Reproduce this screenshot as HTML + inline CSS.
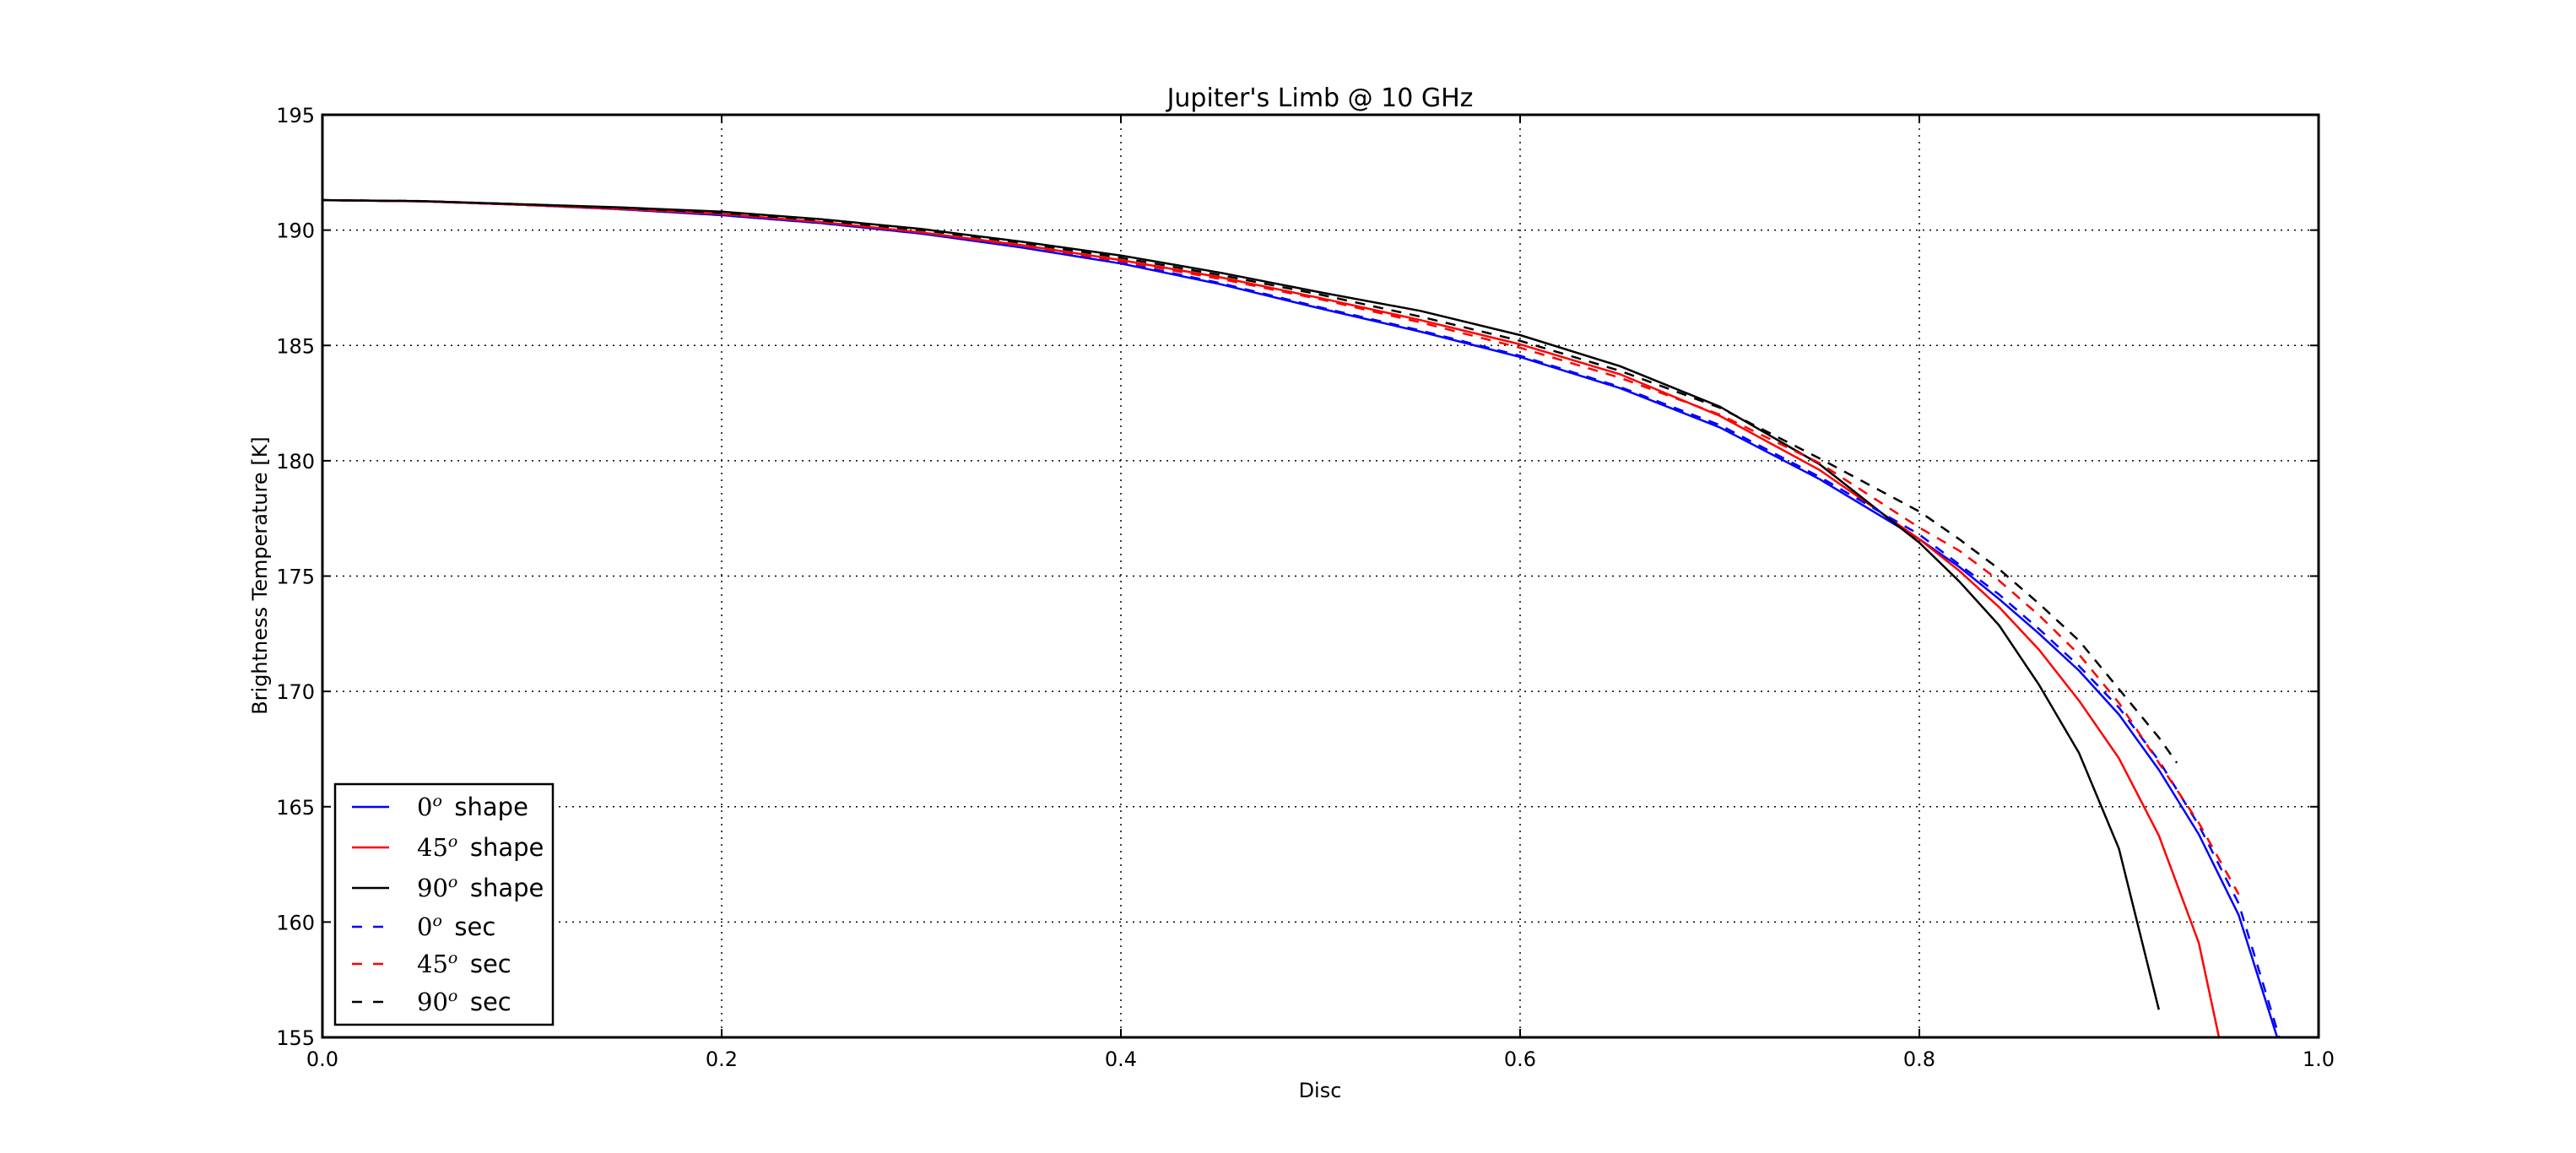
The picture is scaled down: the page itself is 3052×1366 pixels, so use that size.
<!DOCTYPE html>
<html><head><meta charset="utf-8"><style>
html,body{margin:0;padding:0;background:#fff;overflow:hidden;width:3052px;height:1366px;}
svg{display:block;}
svg text{font-family:"DejaVu Sans","Liberation Sans",sans-serif;fill:#000;}
</style></head><body>
<svg id="chart" width="3052" height="1366" viewBox="0 0 3052 1366" xmlns="http://www.w3.org/2000/svg">
<rect width="3052" height="1366" fill="#fff"/>
<g id="grid"></g>
<g id="series"></g>
<g id="axes"></g>
<g id="legend"></g>
</svg>
<script>
const xTicks=[0.0,0.2,0.4,0.6,0.8,1.0];
const xTickLabels=["0.0","0.2","0.4","0.6","0.8","1.0"];
const yTicks=[155,160,165,170,175,180,185,190,195];
const yTickLabels=["155","160","165","170","175","180","185","190","195"];
const xShape=[0,0.05,0.1,0.15,0.2,0.25,0.3,0.35,0.4,0.45,0.5,0.55,0.6,0.65,0.7,0.75,0.8,0.82,0.84,0.86,0.88,0.9,0.92,0.94,0.96,0.98,0.99];
const shape0=[191.3,191.25,191.1,190.9,190.65,190.3,189.85,189.25,188.55,187.65,186.6,185.6,184.5,183.15,181.45,179.2,176.6,175.4,174.0,172.5,170.9,169.0,166.6,163.8,160.3,154.8,152];
const shape45=[191.3,191.25,191.1,190.92,190.7,190.35,189.9,189.35,188.7,187.95,187.05,186.1,185.05,183.75,181.95,179.6,176.6,175.23,173.65,171.8,169.6,167.1,163.75,159.1,151.0];
const shape90=[191.3,191.26,191.12,190.98,190.8,190.47,190.05,189.5,188.9,188.15,187.3,186.5,185.45,184.1,182.35,179.85,176.45,174.77,172.86,170.28,167.33,163.18,156.2];
const sec0=[191.3,191.25,191.1,190.9,190.65,190.3,189.85,189.27,188.6,187.7,186.65,185.65,184.55,183.2,181.55,179.3,176.8,175.5,174.2,172.7,171.1,169.3,167.0,164.2,160.8,155.1,152];
const sec45=[191.3,191.25,191.1,190.92,190.7,190.35,189.9,189.32,188.65,187.88,187.0,186.0,184.9,183.6,182.0,179.9,177.1,176.1,174.8,173.3,171.6,169.5,166.9,164.3,161.2];
const xSec90=[0,0.05,0.1,0.15,0.2,0.25,0.3,0.35,0.4,0.45,0.5,0.55,0.6,0.65,0.7,0.75,0.8,0.82,0.84,0.86,0.88,0.9,0.92,0.929];
const sec90=[191.3,191.26,191.12,190.96,190.75,190.42,190.0,189.45,188.8,188.05,187.2,186.25,185.2,183.9,182.3,180.1,177.8,176.6,175.3,173.8,172.2,170.1,168.0,166.9];

const NS="http://www.w3.org/2000/svg";
const L=382,R=2747,T=136,B=1229;
const xMin=0,xMax=1,yMin=155,yMax=195;
function sx(v){return L+(v-xMin)/(xMax-xMin)*(R-L);}
function sy(v){return B-(v-yMin)/(yMax-yMin)*(B-T);}
function mk(tag,attrs,parent){const e=document.createElementNS(NS,tag);for(const k in attrs)e.setAttribute(k,attrs[k]);parent.appendChild(e);return e;}
const grid=document.getElementById('grid'),series=document.getElementById('series'),axes=document.getElementById('axes'),legend=document.getElementById('legend');

const defs=mk('defs',{},document.getElementById('chart'));
const cp=mk('clipPath',{id:'plotclip'},defs);
mk('rect',{x:L,y:T,width:R-L,height:B-T},cp);
series.setAttribute('clip-path','url(#plotclip)');

xTicks.forEach((t,i)=>{
  const x=sx(t);
  if(i>0&&i<xTicks.length-1){
    const g=mk('line',{x1:x,y1:T,x2:x,y2:B,stroke:'#000','stroke-width':1.5,'stroke-dasharray':'2,6'},grid);
    
    
  }
  mk('line',{x1:x,y1:B,x2:x,y2:B-10,stroke:'#000','stroke-width':2},axes);
  mk('line',{x1:x,y1:T,x2:x,y2:T+10,stroke:'#000','stroke-width':2},axes);
  const tx=mk('text',{x:x,y:1263,'font-size':24,'text-anchor':'middle'},axes);
  tx.textContent=xTickLabels[i];
  
  
});
yTicks.forEach((t,i)=>{
  const y=sy(t);
  if(i>0&&i<yTicks.length-1){
    const g=mk('line',{x1:L,y1:y,x2:R,y2:y,stroke:'#000','stroke-width':1.5,'stroke-dasharray':'2,6'},grid);
    
    
  }
  mk('line',{x1:L,y1:y,x2:L+10,y2:y,stroke:'#000','stroke-width':2},axes);
  mk('line',{x1:R,y1:y,x2:R-10,y2:y,stroke:'#000','stroke-width':2},axes);
  const tx=mk('text',{x:373,y:y+9,'font-size':24,'text-anchor':'end'},axes);
  tx.textContent=yTickLabels[i];
  
  
});
const frame=mk('rect',{x:L,y:T,width:R-L,height:B-T,fill:'none',stroke:'#000','stroke-width':3},axes);



function drawLine(xs,ys,color,dashed,name){
  const pts=ys.map((v,i)=>sx(xs[i]).toFixed(1)+','+sy(v).toFixed(1)).join(' ');
  const a={points:pts,fill:'none',stroke:color,'stroke-width':2.5,'stroke-linejoin':'round'};
  if(dashed)a['stroke-dasharray']='12,10';
  const p=mk('polyline',a,series);
  
  
}
drawLine(xShape,shape0,'#0000ff',false,'series-0deg-shape');
drawLine(xShape,shape45,'#ff0000',false,'series-45deg-shape');
drawLine(xShape,shape90,'#000000',false,'series-90deg-shape');
drawLine(xShape,sec0,'#0000ff',true,'series-0deg-sec');
drawLine(xShape,sec45,'#ff0000',true,'series-45deg-sec');
drawLine(xSec90,sec90,'#000000',true,'series-90deg-sec');

const title=mk('text',{x:1564,y:126,'font-size':30,'text-anchor':'middle'},axes);
title.textContent="Jupiter's Limb @ 10 GHz";


const xl=mk('text',{x:1564,y:1300,'font-size':24,'text-anchor':'middle'},axes);
xl.textContent='Disc';


const yl=mk('text',{x:316,y:682,'font-size':24,'text-anchor':'middle',transform:'rotate(-90 316 682)'},axes);
yl.textContent='Brightness Temperature [K]';



const lb=mk('rect',{x:397,y:929,width:258,height:285,fill:'#fff',stroke:'#000','stroke-width':2.5},legend);


const legNums=['0','45','90','0','45','90'];
const legWords=['shape','shape','shape','sec','sec','sec'];
const legColors=['#0000ff','#ff0000','#000000','#0000ff','#ff0000','#000000'];
const legRows=[956,1004,1052,1098,1142,1187];
legNums.forEach((n,i)=>{
  const y=legRows[i];
  const g=mk('g',{},legend);
  
  
  const a={x1:417,y1:y,x2:461,y2:y,stroke:legColors[i],'stroke-width':2.5};
  if(i>=3)a['stroke-dasharray']='12,13';
  mk('line',a,g);
  const t=mk('text',{x:494,y:y+10,'font-size':29},g);
  const s1=mk('tspan',{'font-family':'"DejaVu Serif","Liberation Serif",serif'},t);
  s1.textContent=n;
  const s2=mk('tspan',{'font-family':'"DejaVu Serif","Liberation Serif",serif','font-style':'italic','font-size':19,dy:-11},t);
  s2.textContent='o';
  const s3=mk('tspan',{dy:11},t);
  s3.textContent='\u2002'+legWords[i];
});
</script>
</body></html>
